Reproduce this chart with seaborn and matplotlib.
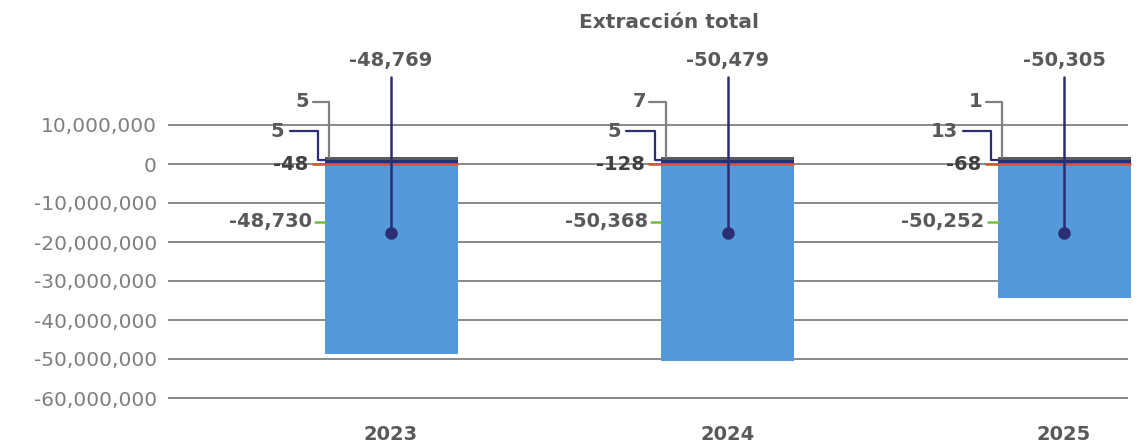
import matplotlib
matplotlib.use("Agg")
import matplotlib.pyplot as plt
import seaborn as sns
import pandas as pd
from matplotlib.ticker import FuncFormatter, FixedLocator

# ---------------- data (values in thousands) ----------------
years = ["2023", "2024", "2025"]
blue_vals = [-48730, -50368, -34210]      # blue segment length as drawn
red_vals = [-48, -128, -68]
navy_vals = [5, 5, 13]
grey_vals = [5, 7, 1]
green_labels = ["-48,730", "-50,368", "-50,252"]
red_labels = ["-48", "-128", "-68"]
navy_labels = ["5", "5", "13"]
grey_labels = ["5", "7", "1"]
total_labels = ["-48,769", "-50,479", "-50,305"]
y_ticks = [10_000_000, 0, -10_000_000, -20_000_000, -30_000_000,
           -40_000_000, -50_000_000, -60_000_000]
title = "Extracción total"

# ---------------- style ----------------
BLUE = "#5499D9"
NAVY = "#2B2E72"
GREY = "#595959"
LGREY = "#7F7F7F"
RED = "#E8502A"
GREEN = "#70BF44"
TXT = "#595959"

W, H = 1142, 445
AX_L, AX_R, AX_T, AX_B = 168, 1128, 62.6, 405.8
PX_X = 1 / 336.5           # data units per pixel (x)
PX_Y = 10e6 / 39           # data units per pixel (y)
BAR_W = 133 * PX_X
NAVY_MIN = 1.03e6          # minimum visible height of tiny segments
GREY_MIN = 0.69e6

sns.set_style("white")
plt.rcParams["font.family"] = ["DejaVu Sans"]

fig = plt.figure(figsize=(W / 100, H / 100), dpi=100)
ax = fig.add_axes([AX_L / W, (H - AX_B) / H, (AX_R - AX_L) / W, (AX_B - AX_T) / H])

k = 1000
blue_total = [(b + r) * k for b, r in zip(blue_vals, red_vals)]
red_plot = [r * k for r in red_vals]
navy_plot = [max(v * k, NAVY_MIN) for v in navy_vals]
grey_plot = [n + max(g * k, GREY_MIN) for n, g in zip(navy_plot, grey_vals)]

df = pd.DataFrame({"year": years, "blue": blue_total, "red": red_plot,
                   "navy": navy_plot, "grey": grey_plot})

for col, colr in [("blue", BLUE), ("red", RED), ("grey", GREY), ("navy", NAVY)]:
    sns.barplot(data=df, x="year", y=col, color=colr, width=BAR_W,
                saturation=1, linewidth=0, ax=ax, order=years)
for p in ax.patches:
    p.set_clip_on(False)

ax.set_xlim((AX_L - 391) * PX_X, (AX_R - 391) * PX_X)
ax.set_ylim(-(AX_B - 164) * PX_Y, (164 - AX_T) * PX_Y)

# annotations
fs_lab = 14
DOT_Y = -17.77e6
TOP_Y = 22.2e6
for i in range(len(years)):
    bl = i - BAR_W / 2
    br = i + BAR_W / 2
    # red line / label
    ax.plot([bl - 13 * PX_X, br], [0, 0], color=RED, lw=1.9, clip_on=False,
            solid_capstyle="butt", zorder=4)
    ax.text(bl - 16 * PX_X, 0, red_labels[i], ha="right", va="center",
            fontsize=fs_lab, fontweight="bold", color="#404040", clip_on=False)
    # green
    gy = -14.8e6
    ax.plot([bl - 10 * PX_X, bl], [gy, gy], color=GREEN, lw=1.8, clip_on=False)
    ax.text(bl - 13 * PX_X, gy, green_labels[i], ha="right", va="center",
            fontsize=fs_lab, fontweight="bold", color=TXT, clip_on=False)
    # navy
    ny = 8.4e6
    nx = bl - 6.5 * PX_X
    nm = 0.9e6
    ax.plot([bl - 35 * PX_X, nx, nx, bl], [ny, ny, nm, nm], color=NAVY, lw=1.6,
            clip_on=False)
    ax.text(bl - 40 * PX_X, ny, navy_labels[i], ha="right", va="center",
            fontsize=fs_lab, fontweight="bold", color=TXT, clip_on=False)
    # grey
    gry = 16.0e6
    gx = bl + 4.5 * PX_X
    ax.plot([bl - 12 * PX_X, gx, gx], [gry, gry, grey_plot[i]], color=LGREY, lw=1.6,
            clip_on=False)
    ax.text(bl - 15 * PX_X, gry, grey_labels[i], ha="right", va="center",
            fontsize=fs_lab, fontweight="bold", color=TXT, clip_on=False)
    # total
    ax.plot([i, i], [DOT_Y, TOP_Y], color=NAVY, lw=1.8, clip_on=False, zorder=5)
    ax.plot([i], [DOT_Y], marker="o", ms=8, color=NAVY, clip_on=False, zorder=6)
    ax.text(i, TOP_Y + 2.0e6, total_labels[i], ha="center", va="bottom",
            fontsize=fs_lab, fontweight="bold", color=TXT, clip_on=False)

# axes styling
for s in ax.spines.values():
    s.set_visible(False)
ax.yaxis.set_major_locator(FixedLocator(y_ticks))
ax.yaxis.set_major_formatter(FuncFormatter(lambda v, p: f"{int(round(v)):,}"))
ax.yaxis.grid(True, color="#808080", lw=1.3)
ax.xaxis.grid(False)
ax.set_axisbelow(True)
ax.tick_params(axis="y", length=0, pad=8, labelsize=14.5, labelcolor=LGREY)
ax.tick_params(axis="x", length=0, pad=14, labelsize=14, labelcolor=TXT)
for t in ax.get_xticklabels():
    t.set_fontweight("bold")
ax.set_xlabel("")
ax.set_ylabel("")

fig.text(669 / W, 1 - 22 / H, title, ha="center", va="center", fontsize=14.5,
         fontweight="bold", color=TXT)

fig.savefig("out.png", dpi=100)
